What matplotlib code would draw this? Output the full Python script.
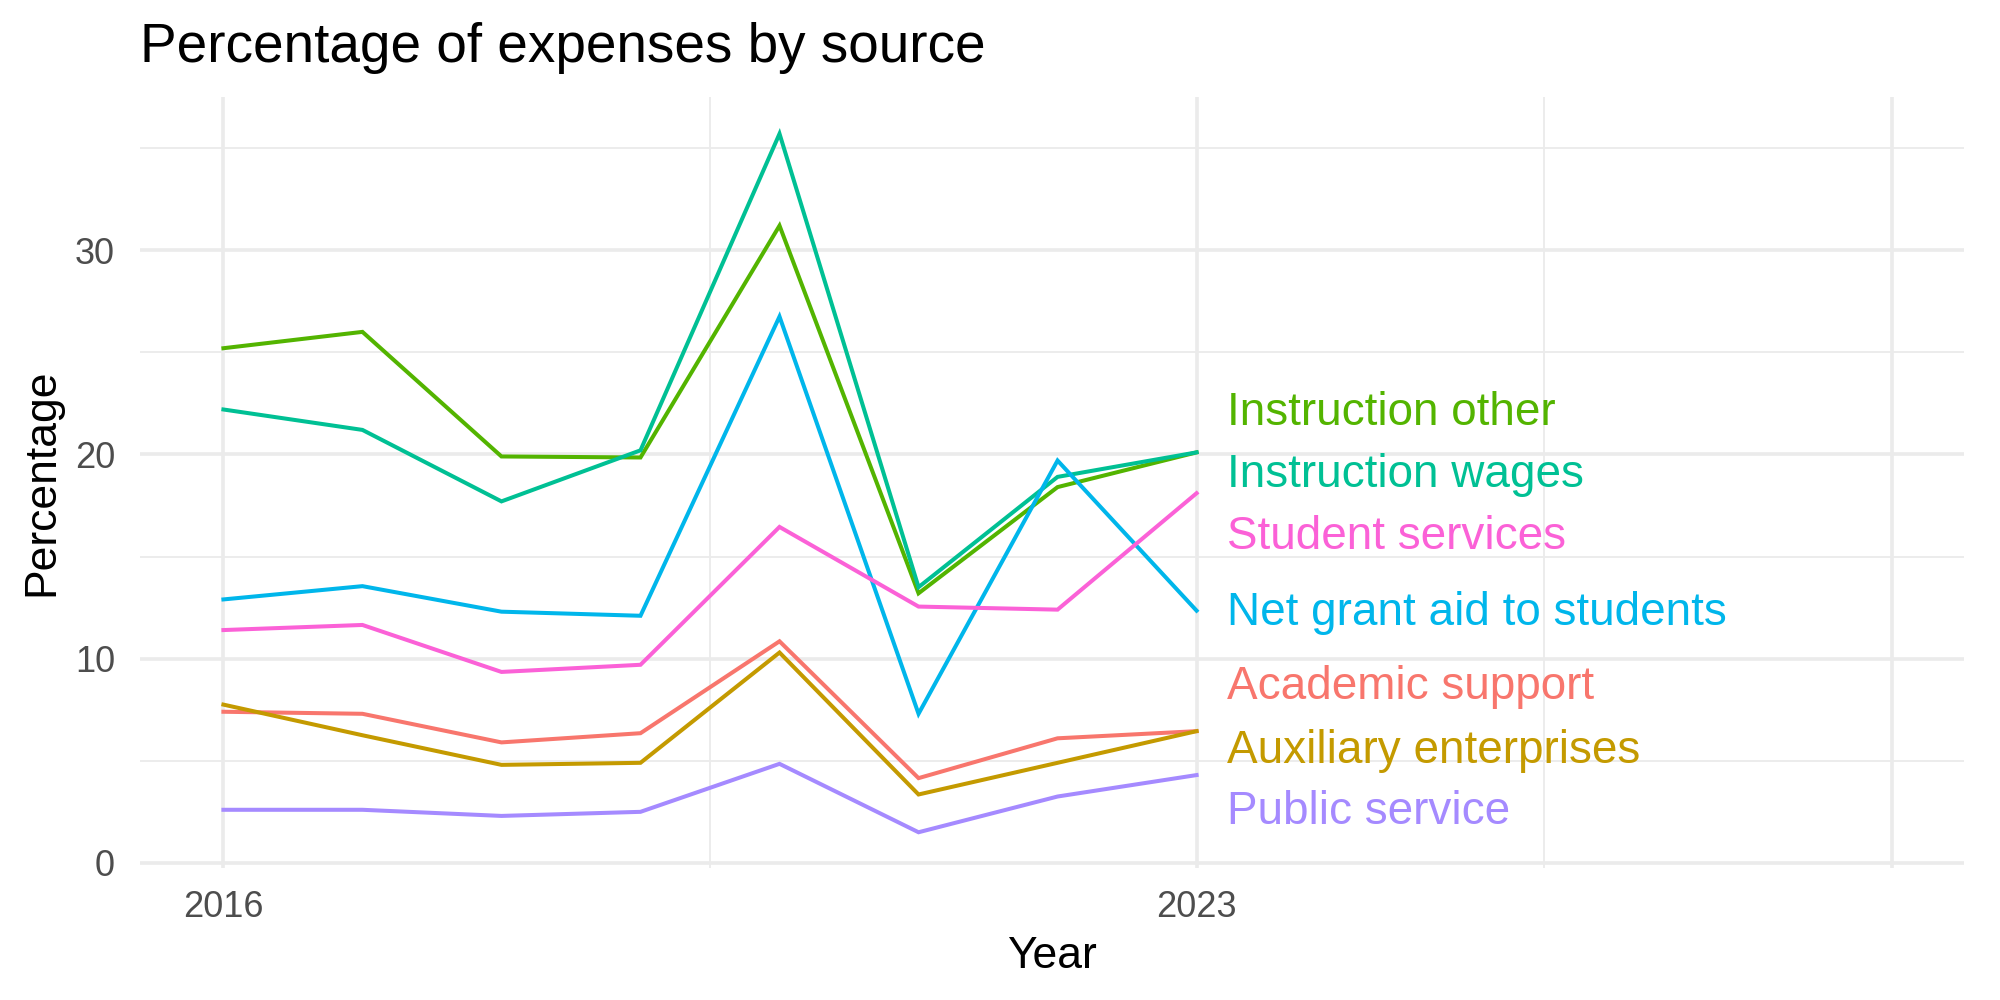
import matplotlib
matplotlib.use('Agg')
import matplotlib.pyplot as plt

plt.rcParams['font.family'] = ['Liberation Sans', 'DejaVu Sans']

years = [2016, 2017, 2018, 2019, 2020, 2021, 2022, 2023]

instruction_other = [25.2, 26.0, 19.9, 19.85, 31.2, 13.2, 18.4, 20.1]
instruction_wages = [22.2, 21.2, 17.7, 20.2, 35.7, 13.5, 18.9, 20.1]
net_grant_aid = [12.9, 13.55, 12.3, 12.1, 26.75, 7.3, 19.7, 12.35]
student_services = [11.4, 11.65, 9.35, 9.7, 16.45, 12.55, 12.4, 18.1]
academic_support = [7.4, 7.3, 5.9, 6.35, 10.85, 4.15, 6.1, 6.45]
auxiliary = [7.75, 6.25, 4.8, 4.9, 10.3, 3.35, 4.9, 6.45]
public_service = [2.6, 2.6, 2.3, 2.5, 4.85, 1.5, 3.25, 4.3]

series_names = ["Instruction other", "Instruction wages", "Net grant aid to students",
                "Student services", "Academic support", "Auxiliary enterprises",
                "Public service"]
series_values = [instruction_other, instruction_wages, net_grant_aid,
                 student_services, academic_support, auxiliary, public_service]
colors = ["#53B400", "#00C094", "#00B6EB", "#FB61D7", "#F8766D", "#C49A00", "#A58AFF"]

# repelled label placement (y in data units)
label_y = [22.05, 19.0, 12.25, 15.95, 8.6, 5.5, 2.5]

fig = plt.figure(figsize=(20, 10), dpi=100)
ax = fig.add_axes([0.07, 0.132, 0.912, 0.771])

for vals, col in zip(series_values, colors):
    ax.plot(years, vals, color=col, lw=2.9, solid_joinstyle='miter', zorder=3)

for name, yl, col in zip(series_names, label_y, colors):
    ax.text(2023.22, yl, name, color=col, fontsize=33, ha='left', va='center', zorder=4)

ax.set_xlim(2015.4, 2028.52)
ax.set_ylim(-0.25, 37.5)

ax.set_xticks([2016, 2023, 2028])
ax.set_xticklabels(["2016", "2023", ""])
ax.set_xticks([2019.5, 2025.5], minor=True)
ax.set_yticks([0, 10, 20, 30])
ax.set_yticks([5, 15, 25, 35], minor=True)

ax.grid(which='major', color='#EBEBEB', lw=2.6, zorder=0)
ax.grid(which='minor', color='#EBEBEB', lw=1.3, zorder=0)
for s in ax.spines.values():
    s.set_visible(False)
ax.tick_params(which='both', length=0)
ax.tick_params(axis='both', labelsize=26, labelcolor='#4D4D4D')
ax.tick_params(axis='x', pad=16)
ax.tick_params(axis='y', pad=18)

ax.set_xlabel("Year", fontsize=32, labelpad=8)
ax.set_ylabel("Percentage", fontsize=32, labelpad=9)
ax.set_title("Percentage of expenses by source", fontsize=39.5, loc='left', pad=25)

fig.savefig("out.png", dpi=100, facecolor='white')
